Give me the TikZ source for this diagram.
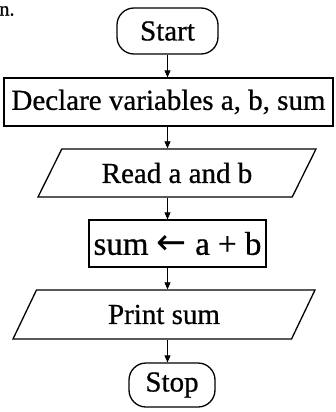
\documentclass[tikz,border=0pt]{standalone}
\usepackage{fontspec}
\setmainfont{Liberation Serif}[FakeBold=0.7]
\newfontfamily\arrowfont{DejaVu Sans}
\usetikzlibrary{shapes.geometric,arrows.meta,calc}

\tikzset{
  term/.style={draw, line width=1.3pt, rounded corners=17pt, inner sep=0pt},
  proc/.style={draw, line width=1.3pt, rectangle, inner sep=0pt},
  io/.style={draw, line width=1.3pt, trapezium, trapezium stretches body, inner sep=0pt},
  flow/.style={line width=0.8pt, -{Triangle[length=7pt,width=6pt]}},
}

\begin{document}
\begin{tikzpicture}[x=1pt, y=-1pt, font=\fontsize{29}{34}\selectfont]
  \useasboundingbox (0,0) rectangle (336,412);

  % Stray mark from the page
  \node[font=\fontsize{20}{24}\selectfont, inner sep=1pt] (mark) at (7,11) {n.};

  % Steps
  \node[term, minimum width=101pt, minimum height=46pt] (start) at (167.5,31) {Start};
  \node[proc, minimum width=329pt, minimum height=48pt] (declare) at (168.5,102) {Declare variables a, b, sum};
  \node[io, trapezium left angle=40.6, trapezium right angle=139.4,
        minimum width=278pt, minimum height=48pt] (read) at (177,173) {Read a and b};
  \node[proc, minimum width=177pt, minimum height=47pt, font=\fontsize{33}{38}\selectfont] (calc) at (177.5,243.5)
    {sum {\arrowfont\fontsize{36}{40}\selectfont ←} a + b};
  \node[io, trapezium left angle=39.7, trapezium right angle=140.3,
        minimum width=302pt, minimum height=49pt] (print) at (164,314.5) {Print sum};
  \node[term, minimum width=86pt, minimum height=44pt] (stop) at (172,385) {Stop};

  % Arrows
  \draw[flow] (start.south) -- (start.south |- declare.north);
  \draw[flow] (declare.south -| start) -- (read.north -| start);
  \draw[flow] (read.south -| start) -- (calc.north -| start);
  \draw[flow] (calc.south -| start) -- (print.north -| start);
  \draw[flow] (print.south -| start) -- (stop.north -| start);
\end{tikzpicture}
\end{document}
